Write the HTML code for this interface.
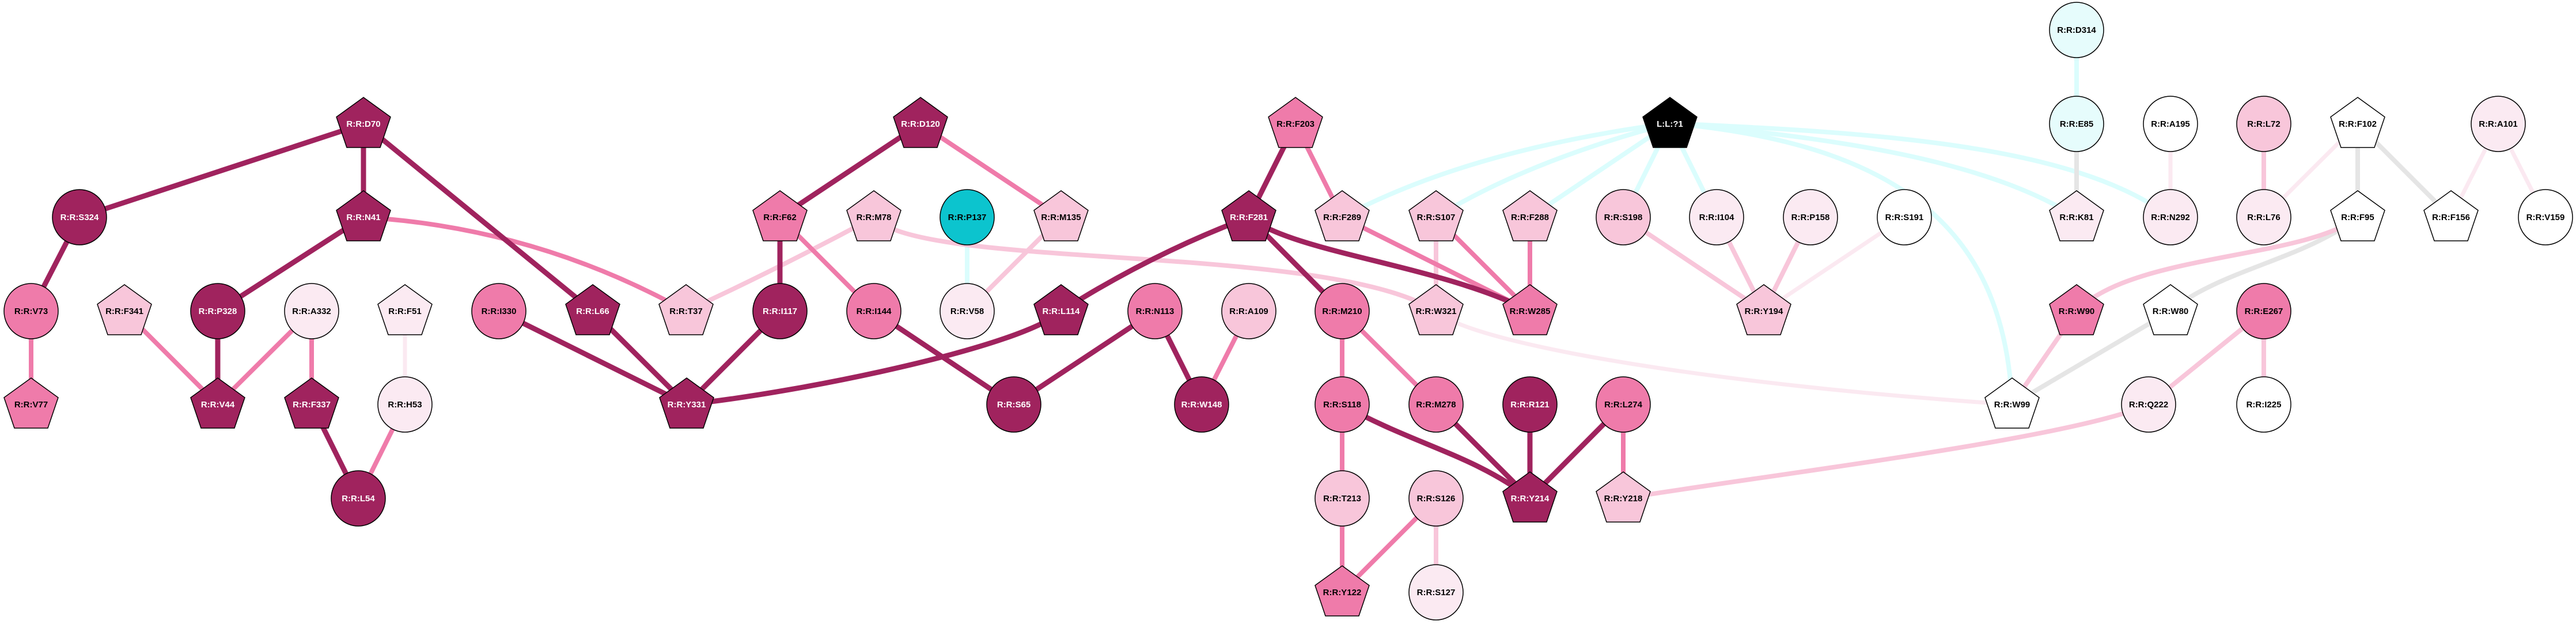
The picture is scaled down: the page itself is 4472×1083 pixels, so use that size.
<!DOCTYPE html>
<html><head><meta charset="utf-8"><style>
html,body{margin:0;padding:0;background:#fff;}
svg{display:block;}
text{font-family:"Liberation Sans",sans-serif;font-weight:bold;font-size:15px;text-anchor:middle;}
.d{stroke:#A0235E;stroke-width:9;fill:none}
.m{stroke:#EF7BAA;stroke-width:8;fill:none}
.l{stroke:#F8C6DA;stroke-width:8;fill:none}
.v{stroke:#FBE9F1;stroke-width:7;fill:none}
.c{stroke:#DBFDFD;stroke-width:8;fill:none}
.g{stroke:#E5E5E5;stroke-width:8;fill:none}
.n{stroke:#000;stroke-width:1.5}
.fd{fill:#A0235E}.fm{fill:#EF7BAA}.fl{fill:#F8C6DA}.fv{fill:#FBEAF2}.fw{fill:#fff}.fc{fill:#0CC4CE}.fy{fill:#E6FCFC}.fk{fill:#000}
.tw{fill:#fff}.tb{fill:#000}
</style></head><body>
<svg width="4472" height="1083" viewBox="0 0 4472 1083" xmlns="http://www.w3.org/2000/svg">
<rect width="4472" height="1083" fill="#fff"/>
<!-- edges -->
<path class="c" d="M2899,214 Q2550,260 2330,377"/>
<path class="c" d="M2899,214 Q2650,280 2493,377"/>
<path class="c" d="M2899,214 L2656,377"/>
<path class="c" d="M2899,214 L2818,377"/>
<path class="c" d="M2899,214 L2980,377"/>
<path class="c" d="M2899,214 C3200,240 3450,280 3605,377"/>
<path class="c" d="M2899,214 C3250,230 3600,250 3768,377"/>
<path class="c" d="M2899,214 C3300,250 3480,400 3493,702"/>
<path class="c" d="M3605,52 L3605,215"/>
<path class="c" d="M1679,377 L1679,540"/>
<path class="g" d="M3605,215 L3605,377"/>
<path class="g" d="M4093,215 L4093,377"/>
<path class="g" d="M4093,215 L4255,377"/>
<path class="g" d="M4093,377 C4000,450 3850,470 3768,540"/>
<path class="g" d="M3768,540 L3493,702"/>
<path class="v" d="M3768,215 L3768,377"/>
<path class="v" d="M4093,215 L3930,377"/>
<path class="v" d="M4337,215 L4255,377"/>
<path class="v" d="M4337,215 L4419,377"/>
<path class="v" d="M703,377 L703,540" transform="translate(0,163)"/>
<path class="v" d="M3306,377 L3062,540"/>
<path class="v" d="M2493,540 C2560,600 3000,670 3493,702"/>
<path class="l" d="M3930,215 L3930,377"/>
<path class="l" d="M4093,377 C4000,450 3700,440 3605,540"/>
<path class="l" d="M3605,540 L3493,702"/>
<path class="l" d="M3930,540 L3730,702"/>
<path class="l" d="M3930,540 L3930,702"/>
<path class="l" d="M3730,702 C3600,760 3100,820 2818,865"/>
<path class="l" d="M2818,377 L3062,540"/>
<path class="l" d="M2980,377 L3062,540"/>
<path class="l" d="M3143,377 L3062,540"/>
<path class="l" d="M2493,377 L2493,540"/>
<path class="l" d="M1517,377 C1600,470 2300,420 2493,540"/>
<path class="l" d="M1517,377 Q1354,465 1191,540"/>
<path class="l" d="M1842,377 L1679,540"/>
<path class="l" d="M2493,865 L2493,1028"/>
<path class="m" d="M631,377 Q930,395 1191,540"/>
<path class="m" d="M54,540 L54,702"/>
<path class="m" d="M216,540 L378,702"/>
<path class="m" d="M541,540 L378,702"/>
<path class="m" d="M541,540 L541,702"/>
<path class="m" d="M703,702 L622,865"/>
<path class="m" d="M1598,215 L1842,377"/>
<path class="m" d="M1354,377 L1517,540"/>
<path class="m" d="M2249,215 L2330,377"/>
<path class="m" d="M2168,540 L2086,702"/>
<path class="m" d="M2330,540 L2330,702"/>
<path class="m" d="M2330,540 L2493,702"/>
<path class="m" d="M2330,702 L2330,865"/>
<path class="m" d="M2330,865 L2330,1028"/>
<path class="m" d="M2493,865 L2330,1028"/>
<path class="m" d="M2818,702 L2818,865"/>
<path class="m" d="M2330,377 L2656,540"/>
<path class="m" d="M2493,377 L2656,540"/>
<path class="m" d="M2656,377 L2656,540"/>
<path class="d" d="M631,215 L138,377"/>
<path class="d" d="M631,215 L631,377"/>
<path class="d" d="M631,215 L1029,540"/>
<path class="d" d="M138,377 L54,540"/>
<path class="d" d="M631,377 L378,540"/>
<path class="d" d="M378,540 L378,702"/>
<path class="d" d="M541,702 L622,865"/>
<path class="d" d="M866,540 L1192,702"/>
<path class="d" d="M1029,540 L1192,702"/>
<path class="d" d="M1598,215 L1354,377"/>
<path class="d" d="M1354,377 L1354,540"/>
<path class="d" d="M1354,540 L1192,702"/>
<path class="d" d="M1517,540 L1760,702"/>
<path class="d" d="M2005,540 L1760,702"/>
<path class="d" d="M2005,540 L2086,702"/>
<path class="d" d="M2249,215 L2168,377"/>
<path class="d" d="M2168,377 Q2000,440 1842,540"/>
<path class="d" d="M1842,540 C1780,600 1400,680 1192,702"/>
<path class="d" d="M2168,377 L2330,540"/>
<path class="d" d="M2168,377 C2250,440 2500,460 2656,540"/>
<path class="d" d="M2330,702 C2450,770 2560,790 2656,865"/>
<path class="d" d="M2493,702 L2656,865"/>
<path class="d" d="M2656,702 L2656,865"/>
<path class="d" d="M2818,702 L2656,865"/>
<!-- nodes: pentagons -->
<g class="n">
<polygon class="fd" points="0,-46 47,-12 29,41 -29,41 -47,-12" transform="translate(631,215)"/>
<polygon class="fd" points="0,-46 47,-12 29,41 -29,41 -47,-12" transform="translate(631,377)"/>
<polygon class="fl" points="0,-46 47,-12 29,41 -29,41 -47,-12" transform="translate(216,540)"/>
<polygon class="fv" points="0,-46 47,-12 29,41 -29,41 -47,-12" transform="translate(703,540)"/>
<polygon class="fd" points="0,-46 47,-12 29,41 -29,41 -47,-12" transform="translate(1029,540)"/>
<polygon class="fl" points="0,-46 47,-12 29,41 -29,41 -47,-12" transform="translate(1191,540)"/>
<polygon class="fm" points="0,-46 47,-12 29,41 -29,41 -47,-12" transform="translate(54,702)"/>
<polygon class="fd" points="0,-46 47,-12 29,41 -29,41 -47,-12" transform="translate(378,702)"/>
<polygon class="fd" points="0,-46 47,-12 29,41 -29,41 -47,-12" transform="translate(541,702)"/>
<polygon class="fd" points="0,-46 47,-12 29,41 -29,41 -47,-12" transform="translate(1192,702)"/>
<polygon class="fd" points="0,-46 47,-12 29,41 -29,41 -47,-12" transform="translate(1598,215)"/>
<polygon class="fm" points="0,-46 47,-12 29,41 -29,41 -47,-12" transform="translate(1354,377)"/>
<polygon class="fl" points="0,-46 47,-12 29,41 -29,41 -47,-12" transform="translate(1517,377)"/>
<polygon class="fl" points="0,-46 47,-12 29,41 -29,41 -47,-12" transform="translate(1842,377)"/>
<polygon class="fm" points="0,-46 47,-12 29,41 -29,41 -47,-12" transform="translate(2249,215)"/>
<polygon class="fd" points="0,-46 47,-12 29,41 -29,41 -47,-12" transform="translate(2168,377)"/>
<polygon class="fl" points="0,-46 47,-12 29,41 -29,41 -47,-12" transform="translate(2330,377)"/>
<polygon class="fd" points="0,-46 47,-12 29,41 -29,41 -47,-12" transform="translate(1842,540)"/>
<polygon class="fl" points="0,-46 47,-12 29,41 -29,41 -47,-12" transform="translate(2493,377)"/>
<polygon class="fl" points="0,-46 47,-12 29,41 -29,41 -47,-12" transform="translate(2656,377)"/>
<polygon class="fl" points="0,-46 47,-12 29,41 -29,41 -47,-12" transform="translate(2493,540)"/>
<polygon class="fm" points="0,-46 47,-12 29,41 -29,41 -47,-12" transform="translate(2656,540)"/>
<polygon class="fl" points="0,-46 47,-12 29,41 -29,41 -47,-12" transform="translate(3062,540)"/>
<polygon class="fd" points="0,-46 47,-12 29,41 -29,41 -47,-12" transform="translate(2656,865)"/>
<polygon class="fl" points="0,-46 47,-12 29,41 -29,41 -47,-12" transform="translate(2818,865)"/>
<polygon class="fm" points="0,-46 47,-12 29,41 -29,41 -47,-12" transform="translate(2330,1028)"/>
<polygon class="fk" points="0,-46 47,-12 29,41 -29,41 -47,-12" transform="translate(2899,215)"/>
<polygon class="fw" points="0,-46 47,-12 29,41 -29,41 -47,-12" transform="translate(4093,215)"/>
<polygon class="fv" points="0,-46 47,-12 29,41 -29,41 -47,-12" transform="translate(3605,377)"/>
<polygon class="fw" points="0,-46 47,-12 29,41 -29,41 -47,-12" transform="translate(4093,377)"/>
<polygon class="fw" points="0,-46 47,-12 29,41 -29,41 -47,-12" transform="translate(4255,377)"/>
<polygon class="fm" points="0,-46 47,-12 29,41 -29,41 -47,-12" transform="translate(3605,540)"/>
<polygon class="fw" points="0,-46 47,-12 29,41 -29,41 -47,-12" transform="translate(3768,540)"/>
<polygon class="fw" points="0,-46 47,-12 29,41 -29,41 -47,-12" transform="translate(3493,702)"/>
<!-- circles -->
<ellipse class="fd" cx="138" cy="377" rx="47" ry="48"/>
<ellipse class="fm" cx="54" cy="540" rx="47" ry="48"/>
<ellipse class="fd" cx="378" cy="540" rx="47" ry="48"/>
<ellipse class="fv" cx="541" cy="540" rx="47" ry="48"/>
<ellipse class="fm" cx="866" cy="540" rx="47" ry="48"/>
<ellipse class="fv" cx="703" cy="702" rx="47" ry="48"/>
<ellipse class="fd" cx="622" cy="865" rx="47" ry="48"/>
<ellipse class="fc" cx="1679" cy="377" rx="47" ry="48"/>
<ellipse class="fd" cx="1354" cy="540" rx="47" ry="48"/>
<ellipse class="fm" cx="1517" cy="540" rx="47" ry="48"/>
<ellipse class="fv" cx="1679" cy="540" rx="47" ry="48"/>
<ellipse class="fm" cx="2005" cy="540" rx="47" ry="48"/>
<ellipse class="fl" cx="2168" cy="540" rx="47" ry="48"/>
<ellipse class="fm" cx="2330" cy="540" rx="47" ry="48"/>
<ellipse class="fd" cx="1760" cy="702" rx="47" ry="48"/>
<ellipse class="fd" cx="2086" cy="702" rx="47" ry="48"/>
<ellipse class="fm" cx="2330" cy="702" rx="47" ry="48"/>
<ellipse class="fl" cx="2818" cy="377" rx="47" ry="48"/>
<ellipse class="fv" cx="2980" cy="377" rx="47" ry="48"/>
<ellipse class="fv" cx="3143" cy="377" rx="47" ry="48"/>
<ellipse class="fw" cx="3306" cy="377" rx="47" ry="48"/>
<ellipse class="fm" cx="2493" cy="702" rx="47" ry="48"/>
<ellipse class="fd" cx="2656" cy="702" rx="47" ry="48"/>
<ellipse class="fm" cx="2818" cy="702" rx="47" ry="48"/>
<ellipse class="fl" cx="2330" cy="865" rx="47" ry="48"/>
<ellipse class="fl" cx="2493" cy="865" rx="47" ry="48"/>
<ellipse class="fv" cx="2493" cy="1028" rx="47" ry="48"/>
<ellipse class="fy" cx="3605" cy="52" rx="47" ry="48"/>
<ellipse class="fy" cx="3605" cy="215" rx="47" ry="48"/>
<ellipse class="fw" cx="3768" cy="215" rx="47" ry="48"/>
<ellipse class="fl" cx="3930" cy="215" rx="47" ry="48"/>
<ellipse class="fv" cx="4337" cy="215" rx="47" ry="48"/>
<ellipse class="fv" cx="3768" cy="377" rx="47" ry="48"/>
<ellipse class="fv" cx="3930" cy="377" rx="47" ry="48"/>
<ellipse class="fw" cx="4419" cy="377" rx="47" ry="48"/>
<ellipse class="fm" cx="3930" cy="540" rx="47" ry="48"/>
<ellipse class="fv" cx="3730" cy="702" rx="47" ry="48"/>
<ellipse class="fw" cx="3930" cy="702" rx="47" ry="48"/>
</g>
<!-- labels -->
<g>
<text class="tw" x="631" y="220">R:R:D70</text>
<text class="tw" x="631" y="382">R:R:N41</text>
<text class="tw" x="138" y="382">R:R:S324</text>
<text class="tb" x="54" y="545">R:R:V73</text>
<text class="tb" x="216" y="545">R:R:F341</text>
<text class="tw" x="378" y="545">R:R:P328</text>
<text class="tb" x="541" y="545">R:R:A332</text>
<text class="tb" x="703" y="545">R:R:F51</text>
<text class="tb" x="866" y="545">R:R:I330</text>
<text class="tw" x="1029" y="545">R:R:L66</text>
<text class="tb" x="1191" y="545">R:R:T37</text>
<text class="tb" x="54" y="707">R:R:V77</text>
<text class="tw" x="378" y="707">R:R:V44</text>
<text class="tw" x="541" y="707">R:R:F337</text>
<text class="tb" x="703" y="707">R:R:H53</text>
<text class="tw" x="1192" y="707">R:R:Y331</text>
<text class="tw" x="622" y="870">R:R:L54</text>
<text class="tw" x="1598" y="220">R:R:D120</text>
<text class="tb" x="1354" y="382">R:R:F62</text>
<text class="tb" x="1517" y="382">R:R:M78</text>
<text class="tb" x="1679" y="382">R:R:P137</text>
<text class="tb" x="1842" y="382">R:R:M135</text>
<text class="tb" x="2249" y="220">R:R:F203</text>
<text class="tw" x="2168" y="382">R:R:F281</text>
<text class="tb" x="2330" y="382">R:R:F289</text>
<text class="tw" x="1354" y="545">R:R:I117</text>
<text class="tb" x="1517" y="545">R:R:I144</text>
<text class="tb" x="1679" y="545">R:R:V58</text>
<text class="tw" x="1842" y="545">R:R:L114</text>
<text class="tb" x="2005" y="545">R:R:N113</text>
<text class="tb" x="2168" y="545">R:R:A109</text>
<text class="tb" x="2330" y="545">R:R:M210</text>
<text class="tw" x="1760" y="707">R:R:S65</text>
<text class="tw" x="2086" y="707">R:R:W148</text>
<text class="tb" x="2330" y="707">R:R:S118</text>
<text class="tw" x="2899" y="220">L:L:?1</text>
<text class="tb" x="2493" y="382">R:R:S107</text>
<text class="tb" x="2656" y="382">R:R:F288</text>
<text class="tb" x="2818" y="382">R:R:S198</text>
<text class="tb" x="2980" y="382">R:R:I104</text>
<text class="tb" x="3143" y="382">R:R:P158</text>
<text class="tb" x="3306" y="382">R:R:S191</text>
<text class="tb" x="2493" y="545">R:R:W321</text>
<text class="tb" x="2656" y="545">R:R:W285</text>
<text class="tb" x="3062" y="545">R:R:Y194</text>
<text class="tb" x="2493" y="707">R:R:M278</text>
<text class="tw" x="2656" y="707">R:R:R121</text>
<text class="tb" x="2818" y="707">R:R:L274</text>
<text class="tb" x="2330" y="870">R:R:T213</text>
<text class="tb" x="2493" y="870">R:R:S126</text>
<text class="tw" x="2656" y="870">R:R:Y214</text>
<text class="tb" x="2818" y="870">R:R:Y218</text>
<text class="tb" x="2330" y="1033">R:R:Y122</text>
<text class="tb" x="2493" y="1033">R:R:S127</text>
<text class="tb" x="3605" y="57">R:R:D314</text>
<text class="tb" x="3605" y="220">R:R:E85</text>
<text class="tb" x="3768" y="220">R:R:A195</text>
<text class="tb" x="3930" y="220">R:R:L72</text>
<text class="tb" x="4093" y="220">R:R:F102</text>
<text class="tb" x="4337" y="220">R:R:A101</text>
<text class="tb" x="3605" y="382">R:R:K81</text>
<text class="tb" x="3768" y="382">R:R:N292</text>
<text class="tb" x="3930" y="382">R:R:L76</text>
<text class="tb" x="4093" y="382">R:R:F95</text>
<text class="tb" x="4255" y="382">R:R:F156</text>
<text class="tb" x="4419" y="382">R:R:V159</text>
<text class="tb" x="3605" y="545">R:R:W90</text>
<text class="tb" x="3768" y="545">R:R:W80</text>
<text class="tb" x="3930" y="545">R:R:E267</text>
<text class="tb" x="3493" y="707">R:R:W99</text>
<text class="tb" x="3730" y="707">R:R:Q222</text>
<text class="tb" x="3930" y="707">R:R:I225</text>
</g>
</svg>
</body></html>
